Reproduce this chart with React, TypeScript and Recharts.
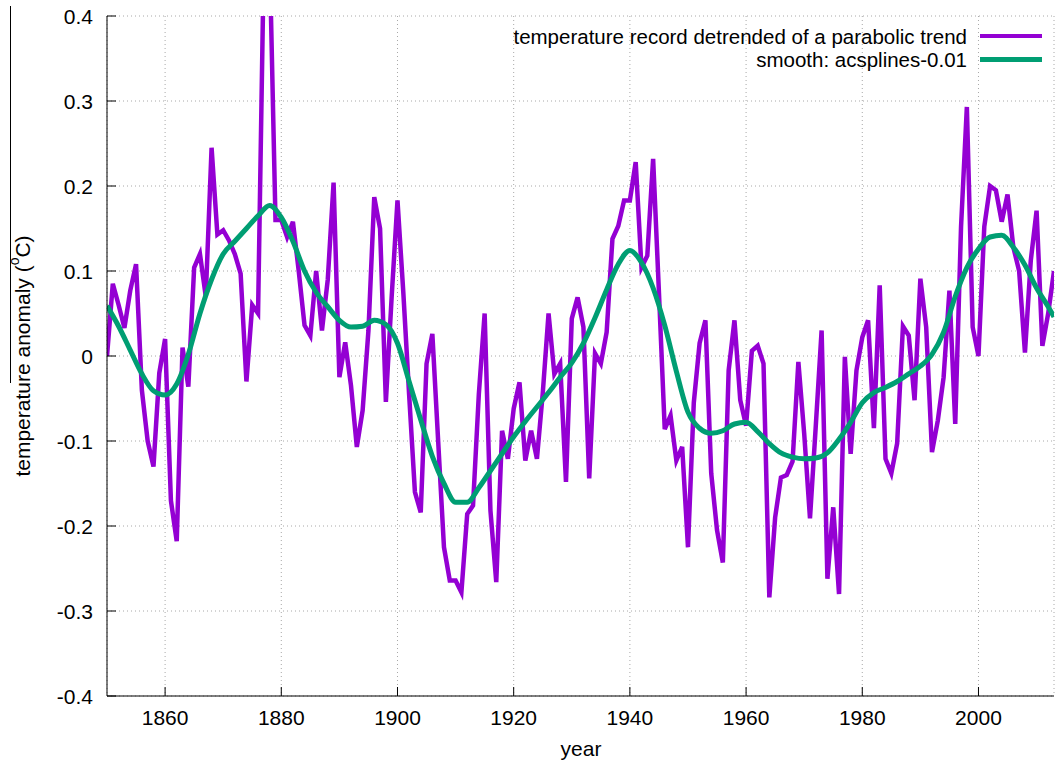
import React from "react";
import { LineChart, Line, XAxis, YAxis, CartesianGrid, Legend, Label } from "recharts";

// yearly record, detrended of a parabolic trend
const years = [
  1850, 1851, 1852, 1853, 1854, 1855, 1856, 1857, 1858, 1859,
  1860, 1861, 1862, 1863, 1864, 1865, 1866, 1867, 1868, 1869,
  1870, 1871, 1872, 1873, 1874, 1875, 1876, 1877, 1878, 1879,
  1880, 1881, 1882, 1883, 1884, 1885, 1886, 1887, 1888, 1889,
  1890, 1891, 1892, 1893, 1894, 1895, 1896, 1897, 1898, 1899,
  1900, 1901, 1902, 1903, 1904, 1905, 1906, 1907, 1908, 1909,
  1910, 1911, 1912, 1913, 1914, 1915, 1916, 1917, 1918, 1919,
  1920, 1921, 1922, 1923, 1924, 1925, 1926, 1927, 1928, 1929,
  1930, 1931, 1932, 1933, 1934, 1935, 1936, 1937, 1938, 1939,
  1940, 1941, 1942, 1943, 1944, 1945, 1946, 1947, 1948, 1949,
  1950, 1951, 1952, 1953, 1954, 1955, 1956, 1957, 1958, 1959,
  1960, 1961, 1962, 1963, 1964, 1965, 1966, 1967, 1968, 1969,
  1970, 1971, 1972, 1973, 1974, 1975, 1976, 1977, 1978, 1979,
  1980, 1981, 1982, 1983, 1984, 1985, 1986, 1987, 1988, 1989,
  1990, 1991, 1992, 1993, 1994, 1995, 1996, 1997, 1998, 1999,
  2000, 2001, 2002, 2003, 2004, 2005, 2006, 2007, 2008, 2009,
  2010, 2011, 2012, 2013,
];

const anomaly = [
  0.0, 0.085, 0.06, 0.033, 0.077, 0.108, -0.04, -0.1, -0.13, -0.02,
  0.02, -0.17, -0.218, 0.01, -0.036, 0.104, 0.12, 0.07, 0.245, 0.143,
  0.148, 0.136, 0.12, 0.097, -0.03, 0.06, 0.05, 0.47, 0.47, 0.16,
  0.16, 0.14, 0.158, 0.1, 0.036, 0.024, 0.1, 0.03, 0.09, 0.204,
  -0.025, 0.016, -0.035, -0.107, -0.064, 0.03, 0.187, 0.15, -0.054, 0.07,
  0.183, 0.075, -0.045, -0.16, -0.184, -0.009, 0.026, -0.1, -0.225, -0.264,
  -0.264, -0.278, -0.186, -0.176, -0.045, 0.05, -0.182, -0.266, -0.088, -0.121,
  -0.062, -0.031, -0.123, -0.088, -0.121, -0.044, 0.05, -0.021, -0.009, -0.148,
  0.044, 0.069, 0.034, -0.144, 0.003, -0.009, 0.028, 0.138, 0.153, 0.183,
  0.183, 0.228, 0.104, 0.118, 0.232, 0.075, -0.086, -0.07, -0.123, -0.107,
  -0.225, -0.055, 0.015, 0.042, -0.138, -0.205, -0.243, -0.017, 0.042, -0.052,
  -0.082, 0.006, 0.012, -0.009, -0.284, -0.19, -0.143, -0.14, -0.124, -0.007,
  -0.091, -0.191, -0.082, 0.03, -0.262, -0.178, -0.28, -0.001, -0.115, -0.017,
  0.022, 0.042, -0.085, 0.083, -0.121, -0.138, -0.103, 0.035, 0.024, -0.052,
  0.091, 0.034, -0.113, -0.076, -0.025, 0.077, -0.08, 0.152, 0.293, 0.034,
  0.0, 0.152, 0.2, 0.195, 0.158, 0.19, 0.128, 0.1, 0.004, 0.112,
  0.171, 0.012, 0.05, 0.1,
];

// acsplines smooth, sampled along the green curve
const smoothYears = [
  1850, 1852, 1854, 1856, 1858, 1860, 1862, 1864, 1866, 1868,
  1870, 1872, 1874, 1876, 1878, 1880, 1882, 1884, 1886, 1888,
  1890, 1892, 1894, 1896, 1898, 1900, 1902, 1904, 1906, 1908,
  1910, 1912, 1914, 1916, 1918, 1920, 1922, 1924, 1926, 1928,
  1930, 1932, 1934, 1936, 1938, 1940, 1942, 1944, 1946, 1948,
  1950, 1952, 1954, 1956, 1958, 1960, 1962, 1964, 1966, 1968,
  1970, 1972, 1974, 1976, 1978, 1980, 1982, 1984, 1986, 1988,
  1990, 1992, 1994, 1996, 1998, 2000, 2002, 2004, 2006, 2008,
  2010, 2012, 2013,
];

const smoothValues = [
  0.059, 0.035, 0.007, -0.021, -0.041, -0.046, -0.033, 0.002, 0.05, 0.09,
  0.12, 0.135, 0.15, 0.165, 0.177, 0.163, 0.135, 0.1, 0.075, 0.058,
  0.042, 0.034, 0.035, 0.042, 0.037, 0.015, -0.03, -0.075, -0.118, -0.15,
  -0.172, -0.172, -0.155, -0.135, -0.115, -0.095, -0.077, -0.06, -0.043, -0.025,
  -0.008, 0.015, 0.045, 0.078, 0.108, 0.124, 0.11, 0.08, 0.036, -0.018,
  -0.066, -0.085, -0.091, -0.088, -0.08, -0.078, -0.089, -0.103, -0.114, -0.119,
  -0.121, -0.12, -0.114, -0.098, -0.078, -0.055, -0.043, -0.037, -0.03, -0.021,
  -0.012, 0.002, 0.028, 0.07, 0.104, 0.126, 0.14, 0.142, 0.128, 0.107,
  0.08, 0.058, 0.046,
];

const xTicks = [1860, 1880, 1900, 1920, 1940, 1960, 1980, 2000];
const yTicks = [-0.4, -0.3, -0.2, -0.1, 0, 0.1, 0.2, 0.3, 0.4];

const RECORD_NAME = "temperature record detrended of a parabolic trend";
const SMOOTH_NAME = "smooth: acsplines-0.01";
const legendOrder = [RECORD_NAME, SMOOTH_NAME];

const FONT = "'Liberation Sans', Arial, Helvetica, sans-serif";
const PURPLE = "#9400d3";
const GREEN = "#009e73";

const recordData = years.map((year, i) => ({ year, value: anomaly[i] }));
const smoothData = smoothYears.map((year, i) => ({ year, value: smoothValues[i] }));

const legendWidths: Record<string, number> = {
  [PURPLE]: 4,
  [GREEN]: 5,
};

// gnuplot style ticks point into the plot
const YTick = (props: any) => {
  const { x, y, payload } = props;
  return (
    <g>
      <line x1={x + 14} x2={x + 23} y1={y} y2={y} stroke="#000" strokeWidth={1} />
      <text x={x} y={y} textAnchor="end" dominantBaseline="central" fontFamily={FONT} fontSize={21} fill="#000">
        {String(payload.value)}
      </text>
    </g>
  );
};

const XTick = (props: any) => {
  const { x, y, payload } = props;
  return (
    <g>
      <line x1={x} x2={x} y1={y} y2={y - 9} stroke="#000" strokeWidth={1} />
      <text x={x} y={y + 21} textAnchor="middle" dominantBaseline="central" fontFamily={FONT} fontSize={21} fill="#000">
        {String(payload.value)}
      </text>
    </g>
  );
};

const TopTick = (props: any) => {
  const { x, y } = props;
  return <line x1={x} x2={x} y1={y} y2={y + 9} stroke="#000" strokeWidth={1} />;
};

const renderLegend = (props: any) => {
  const items = [...(props.payload || [])].sort(
    (a: any, b: any) => legendOrder.indexOf(a.value) - legendOrder.indexOf(b.value)
  );
  return (
    <div style={{ position: "relative", width: 1055, height: 84, fontFamily: FONT, fontSize: 20.5, color: "#000" }}>
      {items.map((entry: any, i: number) => (
        <div
          key={entry.value}
          style={{
            position: "absolute",
            right: 13,
            top: 24.5 + i * 23,
            height: 23,
            lineHeight: "23px",
            display: "flex",
            alignItems: "center",
            whiteSpace: "nowrap",
          }}
        >
          <span>{entry.value}</span>
          <span
            style={{
              display: "inline-block",
              width: 62,
              height: legendWidths[entry.color] || 4,
              background: entry.color,
              marginLeft: 13,
            }}
          />
        </div>
      ))}
    </div>
  );
};

const YLabel = () => (
  <text
    x={22}
    y={356}
    transform="rotate(-90 22 356)"
    textAnchor="middle"
    dominantBaseline="central"
    fontFamily={FONT}
    fontSize={21}
    fill="#000"
  >
    temperature anomaly (<tspan dy={-8} fontSize={14}>o</tspan>
    <tspan dy={8}>C)</tspan>
  </text>
);

const XLabel = () => (
  <text x={581} y={748} textAnchor="middle" dominantBaseline="central" fontFamily={FONT} fontSize={21} fill="#000">
    year
  </text>
);

export default function App() {
  return (
    <div style={{ position: "absolute", left: 0, top: 0, width: 1055, height: 760, background: "#fff" }}>
      <div style={{ position: "absolute", left: 10, top: 6, width: 1, height: 377, background: "#000" }} />
      <LineChart width={1055} height={760} margin={{ top: 16, right: 1, bottom: 0, left: 0 }}>
        <CartesianGrid xAxisId="bottom" stroke="#a8a8a8" strokeDasharray="1 3" />
        <XAxis
          xAxisId="bottom"
          dataKey="year"
          type="number"
          domain={[1850, 2013]}
          ticks={xTicks}
          allowDataOverflow
          height={64}
          tickSize={0}
          tickMargin={0}
          tickLine={false}
          axisLine={{ stroke: "#000", strokeWidth: 1 }}
          tick={<XTick />}
          label={<Label content={<XLabel />} />}
        />
        <XAxis
          xAxisId="top"
          orientation="top"
          dataKey="year"
          type="number"
          domain={[1850, 2013]}
          ticks={xTicks}
          allowDataOverflow
          height={0}
          tickSize={0}
          tickMargin={0}
          tickLine={false}
          axisLine={{ stroke: "#000", strokeWidth: 1 }}
          tick={<TopTick />}
        />
        <YAxis
          type="number"
          domain={[-0.4, 0.4]}
          ticks={yTicks}
          allowDataOverflow
          width={107}
          tickSize={0}
          tickMargin={14}
          tickLine={false}
          axisLine={{ stroke: "#000", strokeWidth: 1 }}
          tick={<YTick />}
          label={<Label content={<YLabel />} />}
        />
        <Legend
          layout="horizontal"
          verticalAlign="middle"
          align="center"
          content={renderLegend}
          wrapperStyle={{ left: 0, top: 0, width: 1055, height: 84 }}
        />
        <Line
          xAxisId="bottom"
          data={recordData}
          dataKey="value"
          name={RECORD_NAME}
          type="linear"
          stroke={PURPLE}
          strokeWidth={4.5}
          dot={false}
          activeDot={false}
          isAnimationActive={false}
        />
        <Line
          xAxisId="bottom"
          data={smoothData}
          dataKey="value"
          name={SMOOTH_NAME}
          type="monotone"
          stroke={GREEN}
          strokeWidth={5}
          dot={false}
          activeDot={false}
          isAnimationActive={false}
        />
      </LineChart>
    </div>
  );
}
